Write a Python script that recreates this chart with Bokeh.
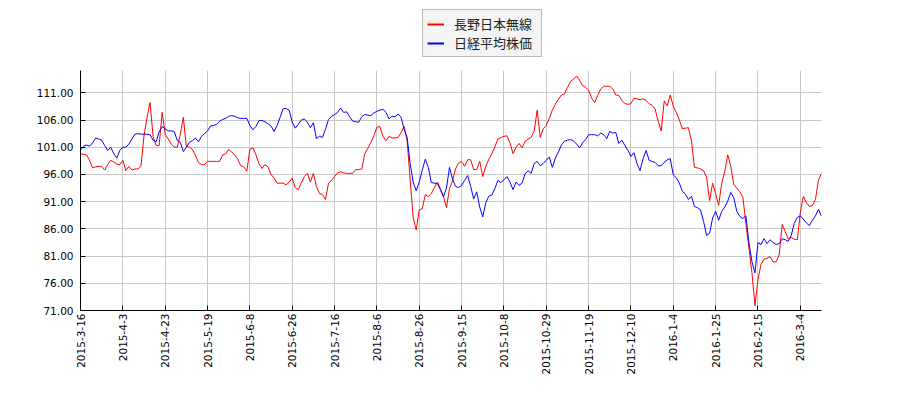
import math
from bokeh.plotting import figure
from bokeh.layouts import column
from bokeh.models import Range1d, FixedTicker, PrintfTickFormatter, Legend, LegendItem
from bokeh.embed import file_html
from bokeh.resources import INLINE

# ---- data (trading-day index 0..245, from 2015-3-16) ----
series_names = ["長野日本無線", "日経平均株価"]
series_colors = ["#ff0000", "#0000ff"]

x_tick_labels = ["2015-3-16", "2015-4-3", "2015-4-23", "2015-5-19", "2015-6-8",
                 "2015-6-26", "2015-7-16", "2015-8-6", "2015-8-26", "2015-9-15",
                 "2015-10-8", "2015-10-29", "2015-11-19", "2015-12-10", "2016-1-4",
                 "2016-1-25", "2016-2-15", "2016-3-4"]
x_tick_step = 14

y_ticks = [71, 76, 81, 86, 91, 96, 101, 106, 111]

red = [
    99.8, 99.7, 99.6, 98.6, 97.2, 97.4, 97.5, 97.5, 96.8, 97.8,
    98.6, 98.3, 97.9, 97.8, 98.6, 96.7, 97.5, 96.8, 97.0, 97.0,
    97.6, 103.1, 106.5, 109.2, 103.0, 101.3, 101.3, 107.4, 103.4, 102.5,
    101.6, 101.0, 101.0, 103.4, 106.5, 101.2, 101.0, 100.6, 99.5, 98.2,
    97.8, 97.8, 98.4, 98.4, 98.4, 98.4, 98.4, 99.6, 99.8, 100.6,
    100.1, 99.6, 98.8, 97.6, 97.4, 96.6, 100.6, 100.9, 99.6, 98.0,
    97.1, 97.8, 97.4, 96.0, 95.3, 94.4, 94.4, 94.4, 94.1, 94.6,
    95.3, 93.6, 93.2, 94.4, 95.6, 96.2, 94.6, 96.2, 93.8, 92.5,
    92.3, 91.4, 94.4, 94.9, 95.6, 96.3, 96.5, 96.3, 96.2, 96.2,
    96.2, 96.9, 96.9, 97.0, 99.8, 100.8, 101.9, 103.1, 104.7, 104.8,
    103.0, 102.2, 103.0, 102.7, 102.7, 102.8, 103.7, 104.8, 102.2, 95.0,
    88.0, 85.8, 89.5, 89.7, 92.3, 91.9, 92.5, 93.6, 94.6, 93.4,
    92.0, 89.9, 93.4, 94.8, 97.0, 98.1, 98.4, 97.5, 98.7, 98.7,
    96.9, 96.9, 98.4, 95.6, 97.5, 98.8, 99.8, 101.1, 102.5, 102.8,
    103.0, 103.1, 101.8, 99.8, 101.0, 101.7, 100.9, 102.1, 102.5, 102.8,
    104.0, 107.8, 102.8, 104.4, 105.0, 106.3, 107.8, 108.9, 109.8, 110.6,
    110.8, 112.0, 113.1, 113.5, 114.1, 113.3, 112.3, 112.0, 111.5, 110.0,
    109.2, 110.5, 111.7, 112.2, 112.2, 112.2, 111.7, 110.6, 110.5, 109.6,
    109.0, 108.9, 109.0, 110.0, 109.9, 109.7, 109.9, 109.6, 109.0, 108.7,
    108.0, 105.8, 104.0, 109.5, 108.6, 110.6, 108.5, 107.4, 106.0, 104.4,
    104.5, 104.6, 102.2, 97.3, 97.2, 97.0, 96.7, 95.5, 91.2, 94.4,
    92.5, 90.3, 94.4, 96.5, 99.6, 97.5, 94.1, 93.5, 92.8, 91.8,
    87.0, 82.5, 78.0, 71.9, 76.7, 79.5, 80.4, 80.6, 80.9, 79.9,
    80.0, 81.2, 86.8, 85.5, 84.2, 84.4, 84.1, 84.0, 89.0, 92.0,
    90.8, 90.1, 90.3, 91.4, 95.0, 96.2,
]

blue = [
    100.4, 101.2, 101.4, 101.2, 101.8, 102.7, 102.5, 102.3, 101.3, 100.4,
    101.0, 99.8, 99.0, 100.4, 101.0, 101.0, 101.6, 102.5, 103.4, 103.5,
    103.4, 103.4, 103.4, 103.3, 102.3, 102.0, 103.8, 104.8, 104.4, 104.0,
    104.0, 103.9, 102.2, 101.9, 100.2, 101.0, 101.9, 102.2, 102.7, 102.0,
    103.0, 103.5, 104.0, 104.9, 105.0, 105.2, 105.8, 106.1, 106.3, 106.7,
    106.8, 106.7, 106.4, 106.3, 106.3, 106.3, 105.0, 104.2, 104.8, 105.9,
    105.9, 105.7, 105.3, 104.9, 103.9, 105.0, 106.5, 108.1, 108.1, 107.8,
    105.6, 104.5, 105.2, 106.0, 106.2, 105.6, 104.6, 105.5, 102.6, 103.0,
    102.8, 104.3, 106.1, 106.7, 107.0, 107.4, 108.2, 107.4, 107.5, 106.6,
    105.8, 105.7, 105.6, 106.6, 107.0, 106.9, 106.8, 107.3, 107.6, 107.8,
    108.0, 107.4, 106.2, 106.7, 106.6, 107.1, 106.5, 104.3, 102.8, 98.0,
    94.6, 93.0, 94.6, 96.8, 98.8, 97.3, 94.5, 94.4, 94.3, 93.2,
    91.9, 93.5, 97.3, 95.2, 93.8, 93.6, 94.0, 94.9, 95.8, 93.8,
    91.5, 92.8, 90.0, 88.2, 90.8, 92.0, 92.2, 93.4, 94.9, 94.5,
    95.0, 95.6, 94.6, 93.2, 94.6, 94.0, 94.4, 96.1, 96.7, 96.2,
    98.0, 98.4, 97.6, 98.0, 98.6, 99.2, 97.3, 99.0, 100.1, 101.4,
    102.1, 102.3, 102.4, 102.2, 101.6, 100.9, 101.8, 102.4, 103.3, 103.3,
    103.3, 103.1, 103.6, 103.3, 102.6, 103.9, 103.6, 103.7, 101.7, 102.3,
    101.3, 100.4, 99.3, 100.0, 98.0, 96.7, 98.9, 100.4, 98.6, 98.4,
    98.2, 97.6, 97.6, 98.2, 98.7, 98.9, 95.9, 95.4, 94.4, 92.9,
    92.4, 91.4, 92.0, 90.1, 89.9, 89.5, 87.4, 84.8, 85.2, 88.0,
    89.2, 87.6, 89.2, 90.0, 91.1, 92.7, 91.7, 89.2, 88.3, 87.9,
    88.4, 83.5, 80.0, 77.9, 83.5, 83.1, 84.2, 83.3, 84.0, 83.5,
    83.1, 83.3, 84.2, 84.0, 83.7, 84.8, 87.0, 88.1, 88.4, 87.8,
    87.1, 86.6, 87.6, 88.4, 89.6, 88.3,
]

x = list(range(len(red)))

# ---------------- legend strip (top) ----------------
lf = figure(width=884, height=70, output_backend="svg", toolbar_location=None,
            x_axis_type=None, y_axis_type=None,
            x_range=Range1d(0, 1), y_range=Range1d(0, 1),
            min_border_left=0, min_border_right=0, min_border_top=0, min_border_bottom=0)
lf.outline_line_color = None
lf.grid.visible = False
lf.background_fill_color = "white"
lf.border_fill_color = "white"
nan = float("nan")
dummy = [lf.line(x=[nan, nan], y=[nan, nan], line_color=c, line_width=2) for c in series_colors]
legend = Legend(items=[LegendItem(label=n, renderers=[r]) for n, r in zip(series_names, dummy)],
                location=(342, 13), orientation="vertical")
legend.label_text_font = "Noto Sans CJK JP"
legend.label_text_font_size = "13px"
legend.label_text_color = "#222222"
legend.glyph_width = 17
legend.glyph_height = 18
legend.label_height = 18
legend.label_width = 83
legend.label_standoff = 10
legend.padding = 4
legend.spacing = 0
legend.margin = 0
legend.border_line_color = "#808080"
legend.background_fill_color = "#f4f4f4"
legend.background_fill_alpha = 1
lf.add_layout(legend)

# ---------------- main chart ----------------
p = figure(width=884, height=314,
           x_range=Range1d(0, len(red) - 1), y_range=Range1d(71, 115.1),
           output_backend="svg", toolbar_location=None,
           min_border_left=80, min_border_right=63,
           min_border_top=0, min_border_bottom=74)

p.background_fill_color = "white"
p.border_fill_color = "white"
p.outline_line_color = None

p.line(x, red, line_color=series_colors[0], line_width=1)
p.line(x, blue, line_color=series_colors[1], line_width=1)

xt = [i * x_tick_step for i in range(len(x_tick_labels))]
p.xaxis.ticker = FixedTicker(ticks=xt)
p.xaxis.major_label_overrides = {t: l for t, l in zip(xt, x_tick_labels)}
p.xaxis.major_label_orientation = math.pi / 2
p.yaxis.ticker = FixedTicker(ticks=y_ticks)
p.yaxis.formatter = PrintfTickFormatter(format="%.2f")

for ax in (p.xaxis, p.yaxis):
    ax.axis_line_color = "black"
    ax.axis_line_width = 1
    ax.major_tick_line_color = "black"
    ax.major_tick_in = 5
    ax.major_tick_out = 0
    ax.minor_tick_line_color = None
    ax.major_label_text_font = "DejaVu Sans"
    ax.major_label_text_font_size = "10.5px"
    ax.major_label_text_color = "black"
p.xaxis.major_label_standoff = 3
p.yaxis.major_label_standoff = 7

p.xgrid.ticker = FixedTicker(ticks=xt)
p.ygrid.ticker = FixedTicker(ticks=y_ticks)
p.grid.grid_line_color = "#c8c8c8"
p.grid.grid_line_width = 1

layout = column(lf, p, spacing=0)
open("out.html", "w").write(file_html(layout, INLINE))
